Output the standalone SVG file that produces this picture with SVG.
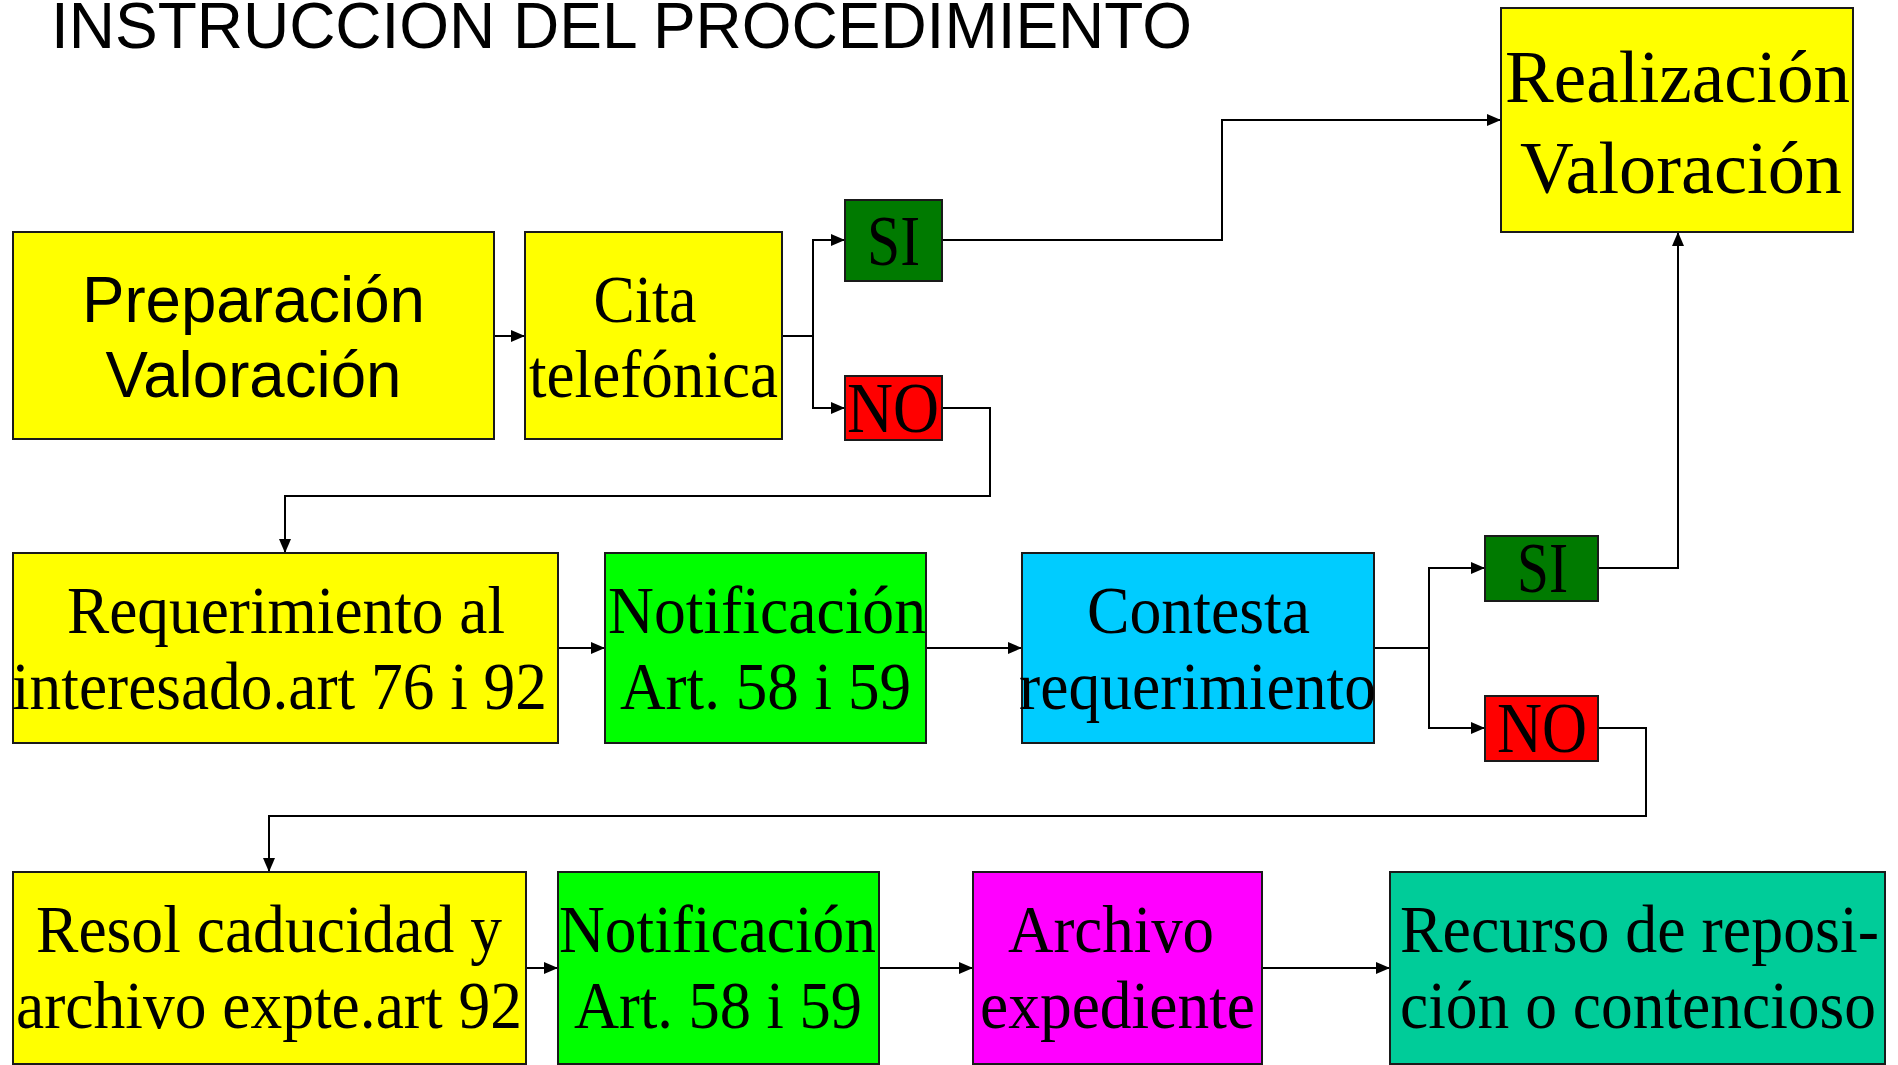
<svg xmlns="http://www.w3.org/2000/svg" width="1898" height="1065" viewBox="0 0 1898 1065">
<style>
.box{stroke:#1a1a1a;stroke-width:2}
.y{fill:#ffff00}.g{fill:#00ff00}.c{fill:#00ccff}.m{fill:#ff00ff}.t{fill:#00cc99}.dg{fill:#007a00}.r{fill:#ff0000}
.ser{font-family:"Liberation Serif","Times New Roman",serif;fill:#000;text-anchor:middle}
.f66{font-size:68px}.f74{font-size:75px}.f70{font-size:71px}.f65{font-size:67px}
.sans{font-family:"Liberation Sans",Arial,sans-serif;fill:#000;text-anchor:middle;font-size:64px}
.conn{fill:none;stroke:#000;stroke-width:2}
</style>
<defs>
<marker id="ah" markerWidth="14" markerHeight="12" refX="14" refY="6" orient="auto" markerUnits="userSpaceOnUse">
<path d="M0,0 L14,6 L0,12 Z" fill="#000"/>
</marker>
</defs>
<rect width="1898" height="1065" fill="#fff"/>
<text x="51" y="48" font-family="'Liberation Sans',Arial,sans-serif" font-size="64" textLength="1141" lengthAdjust="spacingAndGlyphs">INSTRUCCION DEL PROCEDIMIENTO</text>

<g id="connectors">
<path class="conn" d="M494,336 H525" marker-end="url(#ah)"/>
<path class="conn" d="M782,336 H813 V240 H845" marker-end="url(#ah)"/>
<path class="conn" d="M813,336 V408 H845" marker-end="url(#ah)"/>
<path class="conn" d="M942,240 H1222 V120 H1501" marker-end="url(#ah)"/>
<path class="conn" d="M942,408 H990 V496 H285 V553" marker-end="url(#ah)"/>
<path class="conn" d="M558,648 H605" marker-end="url(#ah)"/>
<path class="conn" d="M926,648 H1022" marker-end="url(#ah)"/>
<path class="conn" d="M1374,648 H1429 V568 H1485" marker-end="url(#ah)"/>
<path class="conn" d="M1429,648 V728 H1485" marker-end="url(#ah)"/>
<path class="conn" d="M1598,568 H1678 V232" marker-end="url(#ah)"/>
<path class="conn" d="M1598,728 H1646 V816 H269 V872" marker-end="url(#ah)"/>
<path class="conn" d="M526,968 H558" marker-end="url(#ah)"/>
<path class="conn" d="M879,968 H973" marker-end="url(#ah)"/>
<path class="conn" d="M1262,968 H1390" marker-end="url(#ah)"/>
</g>

<g id="preparacion">
<rect class="box y" x="13" y="232" width="481" height="207"/>
<text class="sans" x="253.5" y="322" textLength="343" lengthAdjust="spacingAndGlyphs">Preparación</text>
<text class="sans" x="253.5" y="397" textLength="296" lengthAdjust="spacingAndGlyphs">Valoración</text>
</g>
<g id="cita">
<rect class="box y" x="525" y="232" width="257" height="207"/>
<text class="ser f65" x="645" y="322" textLength="103" lengthAdjust="spacingAndGlyphs">Cita</text>
<text class="ser f65" x="653.5" y="397" textLength="249" lengthAdjust="spacingAndGlyphs">telefónica</text>
</g>
<g id="si1">
<rect class="box dg" x="845" y="200" width="97" height="81"/>
<text class="ser f70" x="893.5" y="265" textLength="53" lengthAdjust="spacingAndGlyphs">SI</text>
</g>
<g id="no1">
<rect class="box r" x="845" y="376" width="97" height="64"/>
<text class="ser f70" x="893" y="432" textLength="92" lengthAdjust="spacingAndGlyphs">NO</text>
</g>
<g id="realizacion">
<rect class="box y" x="1501" y="8" width="352" height="224"/>
<text class="ser f74" x="1677.5" y="102" textLength="345" lengthAdjust="spacingAndGlyphs">Realización</text>
<text class="ser f74" x="1681" y="193" textLength="322" lengthAdjust="spacingAndGlyphs">Valoración</text>
</g>
<g id="requerimiento">
<rect class="box y" x="13" y="553" width="545" height="190"/>
<text class="ser f66" x="286" y="633" textLength="438" lengthAdjust="spacingAndGlyphs">Requerimiento al</text>
<text class="ser f66" x="279.5" y="709" textLength="535" lengthAdjust="spacingAndGlyphs">interesado.art 76 i 92</text>
</g>
<g id="notificacion1">
<rect class="box g" x="605" y="553" width="321" height="190"/>
<text class="ser f66" x="767" y="633" textLength="318" lengthAdjust="spacingAndGlyphs">Notificación</text>
<text class="ser f66" x="765.5" y="709" textLength="291" lengthAdjust="spacingAndGlyphs">Art. 58 i 59</text>
</g>
<g id="contesta">
<rect class="box c" x="1022" y="553" width="352" height="190"/>
<text class="ser f66" x="1198.5" y="633" textLength="223" lengthAdjust="spacingAndGlyphs">Contesta</text>
<text class="ser f66" x="1197.5" y="709" textLength="357" lengthAdjust="spacingAndGlyphs">requerimiento</text>
</g>
<g id="si2">
<rect class="box dg" x="1485" y="536" width="113" height="65"/>
<text class="ser f70" x="1542.5" y="592" textLength="51" lengthAdjust="spacingAndGlyphs">SI</text>
</g>
<g id="no2">
<rect class="box r" x="1485" y="696" width="113" height="65"/>
<text class="ser f70" x="1542" y="752" textLength="90" lengthAdjust="spacingAndGlyphs">NO</text>
</g>
<g id="resol">
<rect class="box y" x="13" y="872" width="513" height="192"/>
<text class="ser f66" x="269" y="952" textLength="466" lengthAdjust="spacingAndGlyphs">Resol caducidad y</text>
<text class="ser f66" x="269" y="1028" textLength="506" lengthAdjust="spacingAndGlyphs">archivo expte.art 92</text>
</g>
<g id="notificacion2">
<rect class="box g" x="558" y="872" width="321" height="192"/>
<text class="ser f66" x="717.5" y="952" textLength="317" lengthAdjust="spacingAndGlyphs">Notificación</text>
<text class="ser f66" x="718" y="1028" textLength="288" lengthAdjust="spacingAndGlyphs">Art. 58 i 59</text>
</g>
<g id="archivo">
<rect class="box m" x="973" y="872" width="289" height="192"/>
<text class="ser f66" x="1111" y="952" textLength="206" lengthAdjust="spacingAndGlyphs">Archivo</text>
<text class="ser f66" x="1117.5" y="1028" textLength="275" lengthAdjust="spacingAndGlyphs">expediente</text>
</g>
<g id="recurso">
<rect class="box t" x="1390" y="872" width="495" height="192"/>
<text class="ser f66" x="1639.5" y="952" textLength="479" lengthAdjust="spacingAndGlyphs">Recurso de reposi-</text>
<text class="ser f66" x="1638" y="1028" textLength="476" lengthAdjust="spacingAndGlyphs">ción o contencioso</text>
</g>
</svg>
